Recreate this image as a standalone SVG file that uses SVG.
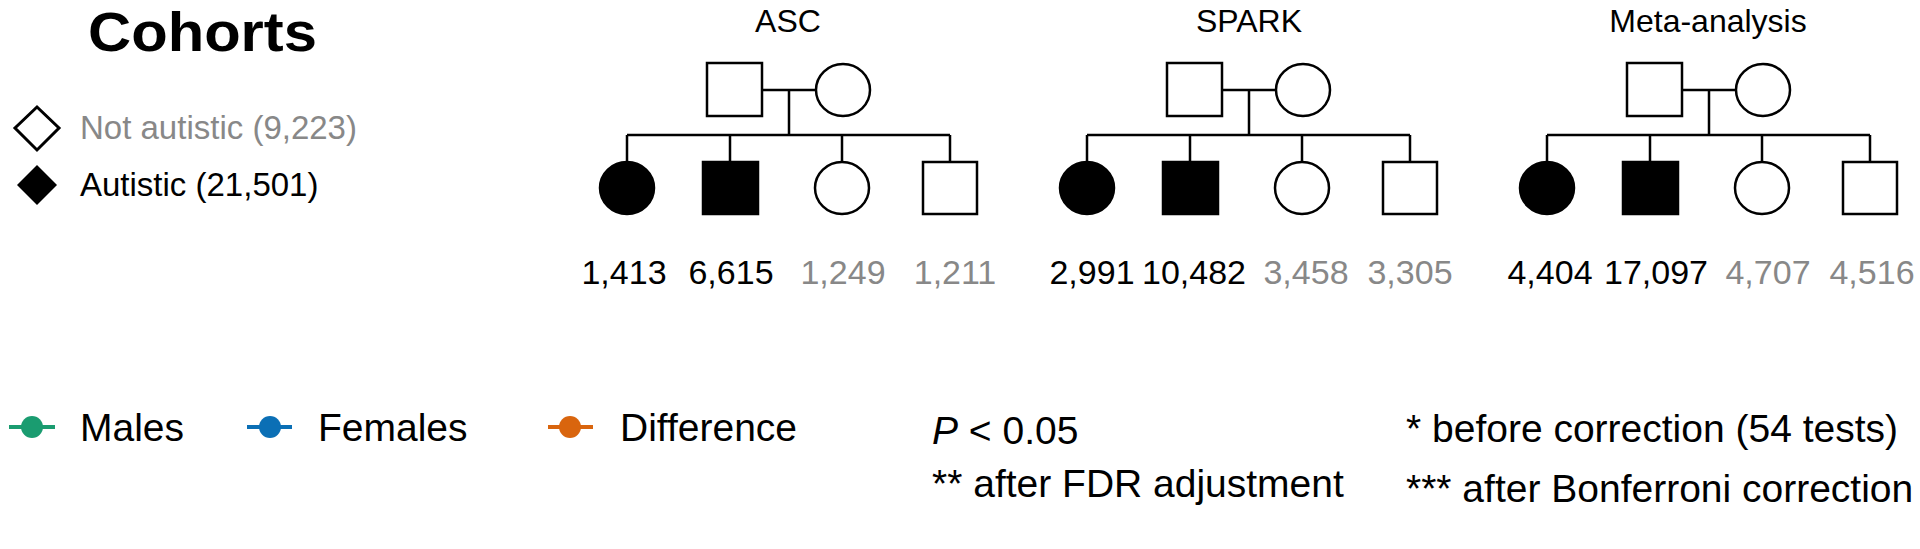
<svg xmlns="http://www.w3.org/2000/svg" width="1920" height="549" viewBox="0 0 1920 549">
<style>
text{font-family:"Liberation Sans",Arial,sans-serif;fill:#000}
.g{fill:#888}
.t{font-size:32px;text-anchor:middle}
.n{font-size:34px;text-anchor:middle}
.l{font-size:39px}
.o{fill:#fff;stroke:#000;stroke-width:2.5}
.f{fill:#000;stroke:#000;stroke-width:2.5}
.c{fill:none;stroke:#000;stroke-width:2.5}
</style>
<defs>
<g id="ped">
<rect class="o" x="707" y="63" width="55" height="53"/>
<ellipse class="o" cx="843" cy="90" rx="27" ry="26"/>
<path class="c" d="M762 90H816M789 90V135M627 135H950M627 135V162M730 135V162M842 135V162M950 135V162"/>
<ellipse class="f" cx="627" cy="188" rx="27" ry="26"/>
<rect class="f" x="703" y="162" width="55" height="52"/>
<ellipse class="o" cx="842" cy="188" rx="27" ry="26"/>
<rect class="o" x="923" y="162" width="54" height="52"/>
</g>
</defs>
<g id="title"><text x="88" y="51" font-size="56" font-weight="bold" textLength="229" lengthAdjust="spacingAndGlyphs">Cohorts</text></g>
<g id="legend-status">
<path d="M37 107L59 128L37 150L15 128Z" fill="#fff" stroke="#000" stroke-width="3"/>
<text x="80" y="139" font-size="33" class="g">Not autistic (9,223)</text>
<path d="M37 165L57 185L37 205L17 185Z" fill="#000"/>
<text x="80" y="196" font-size="33">Autistic (21,501)</text>
</g>
<g id="asc">
<text class="t" x="788" y="32">ASC</text>
<use href="#ped"/>
<text class="n" x="624" y="284">1,413</text><text class="n" x="731" y="284">6,615</text>
<text class="n g" x="843" y="284">1,249</text><text class="n g" x="955" y="284">1,211</text>
</g>
<g id="spark">
<text class="t" x="1249" y="32">SPARK</text>
<use href="#ped" x="460"/>
<text class="n" x="1092" y="284">2,991</text><text class="n" x="1194" y="284">10,482</text>
<text class="n g" x="1306" y="284">3,458</text><text class="n g" x="1410" y="284">3,305</text>
</g>
<g id="meta">
<text class="t" x="1708" y="32">Meta-analysis</text>
<use href="#ped" x="920"/>
<text class="n" x="1550" y="284">4,404</text><text class="n" x="1656" y="284">17,097</text>
<text class="n g" x="1768" y="284">4,707</text><text class="n g" x="1872" y="284">4,516</text>
</g>
<g id="legend-colors">
<path d="M9 427H55" stroke="#1a9c70" stroke-width="4"/><circle cx="32" cy="427" r="11" fill="#1a9c70"/>
<text class="l" x="80" y="441">Males</text>
<path d="M247 427H292" stroke="#0b6fb5" stroke-width="4"/><circle cx="270" cy="427" r="11" fill="#0b6fb5"/>
<text class="l" x="318" y="441">Females</text>
<path d="M548 427H593" stroke="#d9650e" stroke-width="4"/><circle cx="570" cy="427" r="11" fill="#d9650e"/>
<text class="l" x="620" y="441">Difference</text>
</g>
<g id="legend-p">
<text class="l" x="932" y="444"><tspan font-style="italic">P</tspan> &lt; 0.05</text>
<text class="l" x="932" y="497">** after FDR adjustment</text>
<text class="l" x="1406" y="442">* before correction (54 tests)</text>
<text class="l" x="1406" y="502">*** after Bonferroni correction</text>
</g>
</svg>
